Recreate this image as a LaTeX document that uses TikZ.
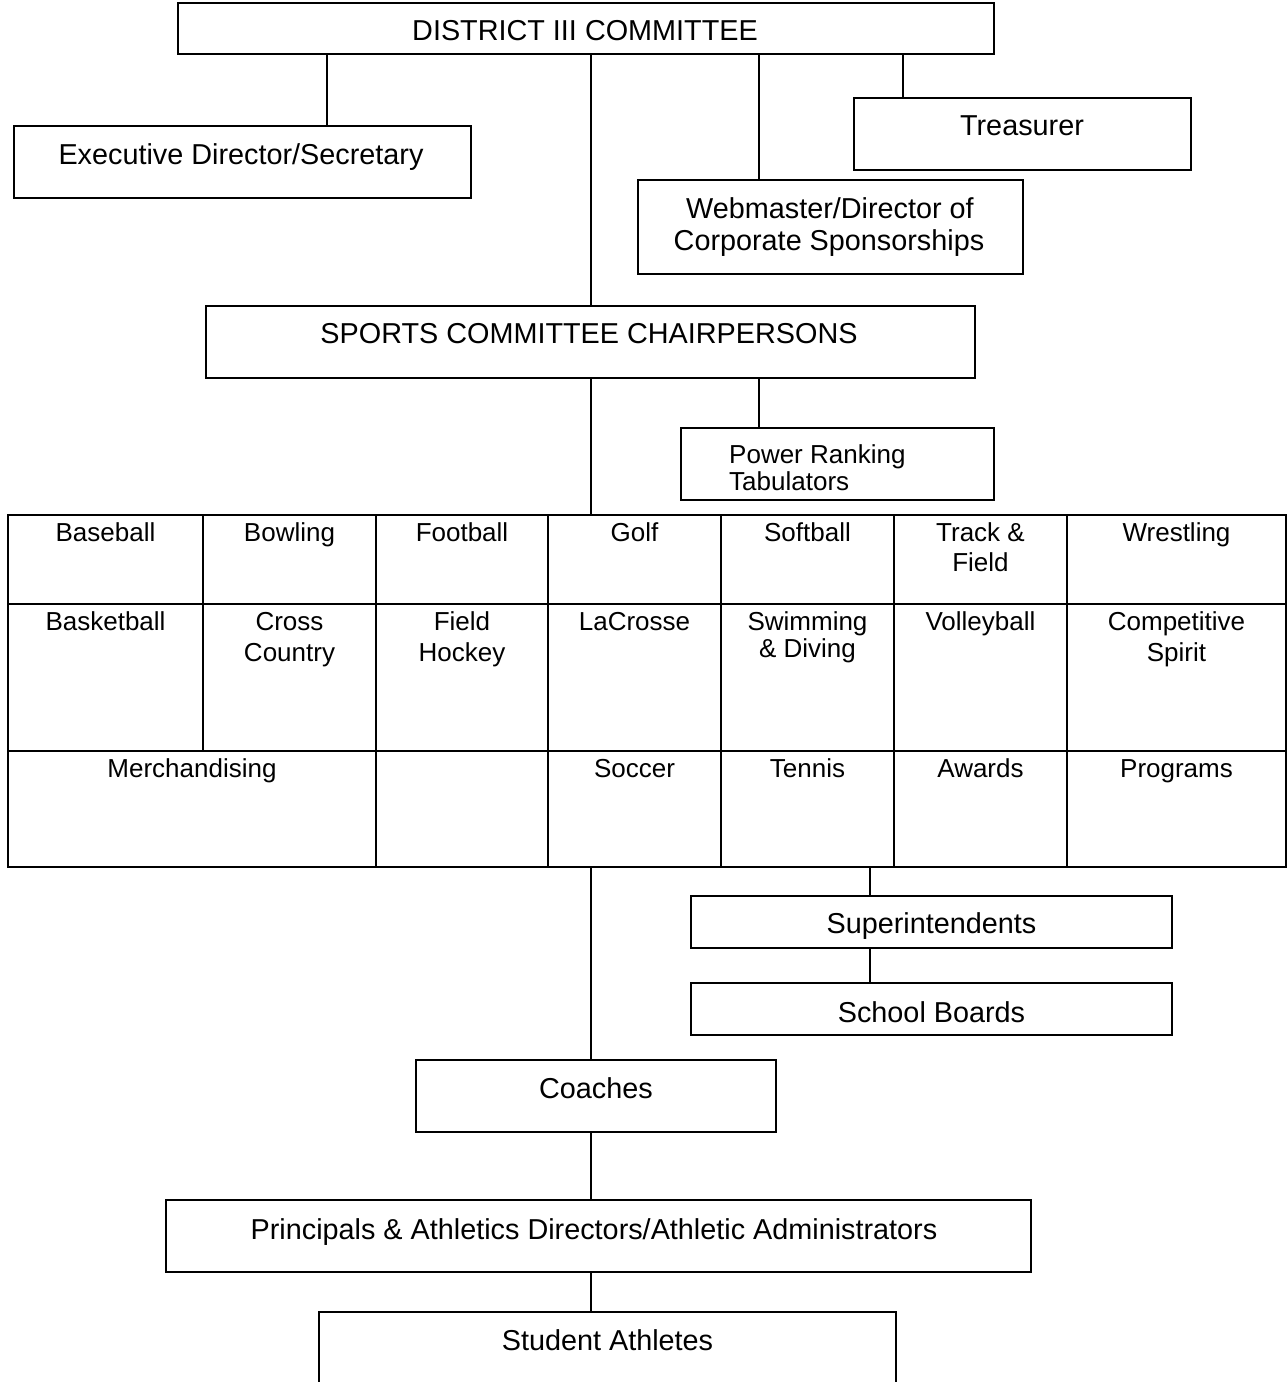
\documentclass[tikz,border=0pt]{standalone}
\usepackage{fontspec}
\setmainfont{Liberation Sans}
\begin{document}
\begin{tikzpicture}[x=1pt,y=-1pt,
  box/.style={draw=black, line width=1.8pt, inner sep=0pt, outer sep=0pt, rectangle},
  big/.style={font=\fontsize{28.8}{32}\selectfont, inner sep=0pt, anchor=base},
  sm/.style={font=\fontsize{26}{30}\selectfont, inner sep=0pt, anchor=base},
  conn/.style={draw=black, line width=1.8pt}]
\useasboundingbox (0,0) rectangle (1288,1382);
\clip (0,0) rectangle (1288,1382);
\newcommand\bx[5]{\node[box, minimum width={(#4-#2)*1pt}, minimum height={(#5-#3)*1pt}] (#1) at ({(#2+#4)/2},{(#3+#5)/2}) {};}
% x positions for connectors
\coordinate (xa) at (327,0);
\coordinate (xm) at (591,0);
\coordinate (xw) at (759,0);
\coordinate (xt) at (903,0);
\coordinate (xs) at (870,0);
% boxes
\bx{dist}{178}{3}{994}{54}
\bx{exec}{14}{126}{471}{198}
\bx{treas}{854}{98}{1191}{170}
\bx{web}{638}{180}{1023}{274}
\bx{sports}{206}{306}{975}{378}
\bx{power}{681}{428}{994}{500}
\bx{sup}{691}{896}{1172}{948}
\bx{board}{691}{983}{1172}{1035}
\bx{coach}{416}{1060}{776}{1132}
\bx{princ}{166}{1200}{1031}{1272}
\bx{stud}{319}{1312}{896}{1420}
% table cells
\bx{c11}{8}{515}{203}{604}
\bx{c12}{203}{515}{376}{604}
\bx{c13}{376}{515}{548}{604}
\bx{c14}{548}{515}{721}{604}
\bx{c15}{721}{515}{894}{604}
\bx{c16}{894}{515}{1067}{604}
\bx{c17}{1067}{515}{1286}{604}
\bx{c21}{8}{604}{203}{751}
\bx{c22}{203}{604}{376}{751}
\bx{c23}{376}{604}{548}{751}
\bx{c24}{548}{604}{721}{751}
\bx{c25}{721}{604}{894}{751}
\bx{c26}{894}{604}{1067}{751}
\bx{c27}{1067}{604}{1286}{751}
\bx{c31}{8}{751}{376}{867}
\bx{c32}{376}{751}{548}{867}
\bx{c33}{548}{751}{721}{867}
\bx{c34}{721}{751}{894}{867}
\bx{c35}{894}{751}{1067}{867}
\bx{c36}{1067}{751}{1286}{867}
% box texts
\node[big] (tdist) at (585,40) {DISTRICT III COMMITTEE};
\node[big] (texec) at (241,164) {Executive Director/Secretary};
\node[big] (ttreas) at (1022,135) {Treasurer};
\node[big] (tweb1) at (830,218) {Webmaster/Director of};
\node[big] (tweb2) at (829,250) {Corporate Sponsorships};
\node[big] (tsports) at (589,343) {SPORTS COMMITTEE CHAIRPERSONS};
\node[sm, anchor=base west] (tpow1) at (729,463) {Power Ranking};
\node[sm, anchor=base west] (tpow2) at (729,490) {Tabulators};
\node[big] (tsup) at (931.5,933) {Superintendents};
\node[big] (tboard) at (931.5,1022) {School Boards};
\node[big] (tcoach) at (596,1098) {Coaches};
\node[big] (tprinc) at (594,1239) {Principals \& Athletics Directors/Athletic Administrators};
\node[big] (tstud) at (607.5,1350) {Student Athletes};
% cell texts
\node[sm] (t11) at ([yshift=-26pt]c11.north) {Baseball};
\node[sm] (t12) at ([yshift=-26pt]c12.north) {Bowling};
\node[sm] (t13) at ([yshift=-26pt]c13.north) {Football};
\node[sm] (t14) at ([yshift=-26pt]c14.north) {Golf};
\node[sm] (t15) at ([yshift=-26pt]c15.north) {Softball};
\node[sm] (t16a) at ([yshift=-26pt]c16.north) {Track \&};
\node[sm] (t16b) at ([yshift=-56pt]c16.north) {Field};
\node[sm] (t17) at ([yshift=-26pt]c17.north) {Wrestling};
\node[sm] (t21) at ([yshift=-26pt]c21.north) {Basketball};
\node[sm] (t22a) at ([yshift=-26pt]c22.north) {Cross};
\node[sm] (t22b) at ([yshift=-57pt]c22.north) {Country};
\node[sm] (t23a) at ([yshift=-26pt]c23.north) {Field};
\node[sm] (t23b) at ([yshift=-57pt]c23.north) {Hockey};
\node[sm] (t24) at ([yshift=-26pt]c24.north) {LaCrosse};
\node[sm] (t25a) at ([yshift=-26pt]c25.north) {Swimming};
\node[sm] (t25b) at ([yshift=-53pt]c25.north) {\& Diving};
\node[sm] (t26) at ([yshift=-26pt]c26.north) {Volleyball};
\node[sm] (t27a) at ([yshift=-26pt]c27.north) {Competitive};
\node[sm] (t27b) at ([yshift=-57pt]c27.north) {Spirit};
\node[sm] (t31) at ([yshift=-26pt]c31.north) {Merchandising};
\node[sm] (t33) at ([yshift=-26pt]c33.north) {Soccer};
\node[sm] (t34) at ([yshift=-26pt]c34.north) {Tennis};
\node[sm] (t35) at ([yshift=-26pt]c35.north) {Awards};
\node[sm] (t36) at ([yshift=-26pt]c36.north) {Programs};
% connectors
\draw[conn] (dist.south -| xa) -- (exec.north -| xa);
\draw[conn] (dist.south -| xm) -- (sports.north -| xm);
\draw[conn] (dist.south -| xw) -- (web.north -| xw);
\draw[conn] (dist.south -| xt) -- (treas.north -| xt);
\draw[conn] (sports.south -| xw) -- (power.north -| xw);
\draw[conn] (sports.south -| xm) -- (c14.north -| xm);
\draw[conn] (c33.south -| xm) -- (coach.north -| xm);
\draw[conn] (c34.south -| xs) -- (sup.north -| xs);
\draw[conn] (sup.south -| xs) -- (board.north -| xs);
\draw[conn] (coach.south -| xm) -- (princ.north -| xm);
\draw[conn] (princ.south -| xm) -- (stud.north -| xm);
\end{tikzpicture}
\end{document}
